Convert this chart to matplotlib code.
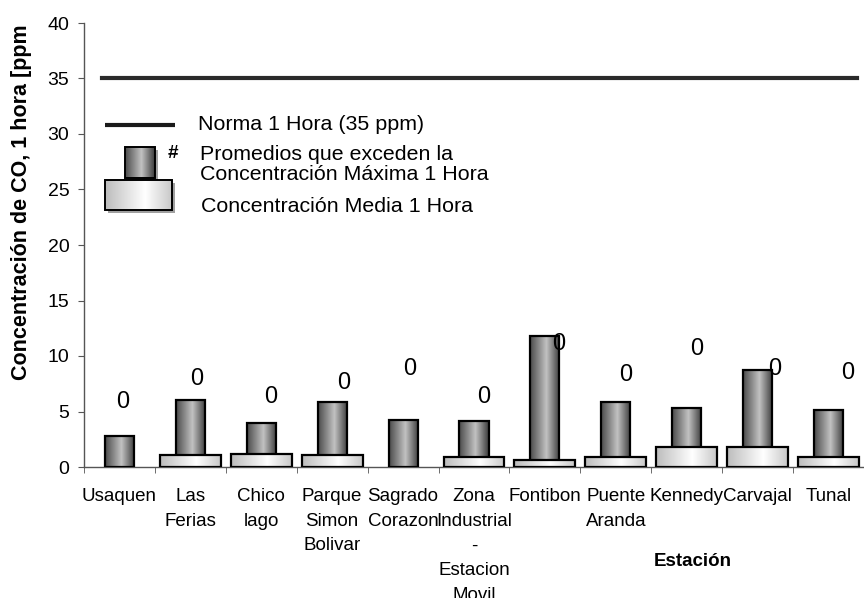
import matplotlib
matplotlib.use("Agg")
import matplotlib.pyplot as plt
import numpy as np
from matplotlib.colors import LinearSegmentedColormap
from matplotlib.patches import Rectangle

# ---------------- data ----------------
stations = ["Usaquen", "Las\nFerias", "Chico\nlago", "Parque\nSimon\nBolivar",
            "Sagrado\nCorazon", "Zona\nIndustrial\n-\nEstacion\nMovil", "Fontibon",
            "Puente\nAranda", "Kennedy", "Carvajal", "Tunal"]
max_conc = [2.8, 6.0, 4.0, 5.9, 4.2, 4.15, 11.8, 5.85, 5.3, 8.7, 5.1]
mean_conc = [0.0, 1.1, 1.2, 1.08, 0.0, 0.93, 0.63, 0.87, 1.8, 1.8, 0.87]
exceed_counts = [0, 0, 0, 0, 0, 0, 0, 0, 0, 0, 0]
count_label_y = [5.9, 7.9, 6.35, 7.55, 8.8, 6.3, 11.1, 8.3, 10.6, 8.8, 8.5]
count_label_dx = [0.05, 0.09, 0.135, 0.165, 0.1, 0.14, 0.2, 0.14, 0.14, 0.24, 0.27]
norma = 35
yticks = [0, 5, 10, 15, 20, 25, 30, 35, 40]

plt.rcParams["font.family"] = ["Liberation Sans", "DejaVu Sans"]

W, H = 864, 598
fig = plt.figure(figsize=(W / 100, H / 100), dpi=100)
ax = fig.add_axes([84 / W, (H - 467) / H, 780 / W, 444 / H])

dark_cmap = LinearSegmentedColormap.from_list(
    "dark", [(0, "#4a4a4a"), (0.55, "#c2c2c2"), (1, "#3a3a3a")])
light_cmap = LinearSegmentedColormap.from_list(
    "light", [(0, "#bcbcbc"), (0.6, "#ffffff"), (1, "#c8c8c8")])
grad = np.linspace(0, 1, 256)[None, :]


def fill_gradient(axis, patch, cmap, z):
    x0, y0 = patch.get_x(), patch.get_y()
    w, h = patch.get_width(), patch.get_height()
    im = axis.imshow(grad, extent=[x0, x0 + w, y0, y0 + h], aspect="auto",
                     cmap=cmap, zorder=z, interpolation="bilinear")
    im.set_clip_path(patch)


x = np.arange(len(stations))
bars_max = ax.bar(x, max_conc, width=0.41, facecolor="none",
                  edgecolor="black", linewidth=1.6, zorder=3.1)
for p in bars_max:
    fill_gradient(ax, p, dark_cmap, 3.0)

mean_arr = np.array(mean_conc)
sel = mean_arr > 0
bars_mean = ax.bar(x[sel], mean_arr[sel], width=0.86, facecolor="none",
                   edgecolor="black", linewidth=1.6, zorder=4.1)
for p in bars_mean:
    fill_gradient(ax, p, light_cmap, 4.0)

ax.axhline(norma, xmin=18 / 780, xmax=773 / 780, color="#2a2a2a", lw=3, zorder=5)

for i, (c, yy, dx) in enumerate(zip(exceed_counts, count_label_y, count_label_dx)):
    ax.text(i + dx, yy, str(c), ha="center", va="center", fontsize=17, zorder=6)

ax.set_xlim(-0.5, len(stations) - 0.5)
ax.set_ylim(0, 40)
ax.set_yticks(yticks)
ax.set_xticks(x)
ax.set_xticklabels(stations, fontsize=13.5, linespacing=1.6)
ax.set_xticks(np.arange(-0.5, len(stations), 1), minor=True)
ax.tick_params(axis="x", which="major", length=0, pad=15)
ax.tick_params(axis="x", which="minor", length=4.5, direction="out", color="#555555")
ax.tick_params(axis="y", length=4.5, direction="out", pad=6, labelsize=14, color="#555555")
for s in ["top", "right"]:
    ax.spines[s].set_visible(False)
for s in ["left", "bottom"]:
    ax.spines[s].set_color("#555555")
    ax.spines[s].set_linewidth(1.0)

# ---------------- legend / annotation overlay (pixel coords) ----------------
lax = fig.add_axes([0, 0, 1, 1], zorder=10)
lax.set_xlim(0, W)
lax.set_ylim(H, 0)
lax.axis("off")

lax.plot([105, 175], [125, 125], color="#1a1a1a", lw=3, solid_capstyle="butt")
lax.text(198, 125, "Norma 1 Hora (35 ppm)", va="center", fontsize=15.4)

# small (max) box with shadow
lax.add_patch(Rectangle((128, 150), 30, 31, facecolor="#a0a0a0", edgecolor="none"))
sb = Rectangle((125, 147), 30, 31, facecolor="none", edgecolor="black", lw=1.4, zorder=3)
lax.add_patch(sb)
fill_gradient(lax, sb, dark_cmap, 2)
lax.text(173, 153, "#", ha="center", va="center", fontsize=13.5, weight="bold")

clip1 = Rectangle((190, 130), 400, 33, transform=lax.transData)
clip2 = Rectangle((190, 163), 400, 17, transform=lax.transData)
t1 = lax.text(200, 160, "Promedios que exceden la", va="baseline", fontsize=15.4)
t1.set_clip_path(clip1)
t2 = lax.text(200, 180, "Concentración Máxima 1 Hora", va="baseline", fontsize=15.4)
t2.set_clip_path(clip2)

# big (mean) box with shadow
lax.add_patch(Rectangle((108, 183), 67, 30, facecolor="#a0a0a0", edgecolor="none"))
bb = Rectangle((105, 180), 67, 30, facecolor="none", edgecolor="black", lw=1.4, zorder=3)
lax.add_patch(bb)
fill_gradient(lax, bb, light_cmap, 2)
lax.text(201, 207, "Concentración Media 1 Hora", va="center", fontsize=15.4)

lax.set_xlim(0, W)
lax.set_ylim(H, 0)

# axis titles
lax.text(693, 562, "Estación", ha="center", va="center", fontsize=13.5, weight="bold")
lax.text(22, 380, "Concentración de CO, 1 hora [ppm", rotation=90, ha="center",
         va="bottom", fontsize=15.5, weight="bold")

fig.savefig("out.png", dpi=100)
